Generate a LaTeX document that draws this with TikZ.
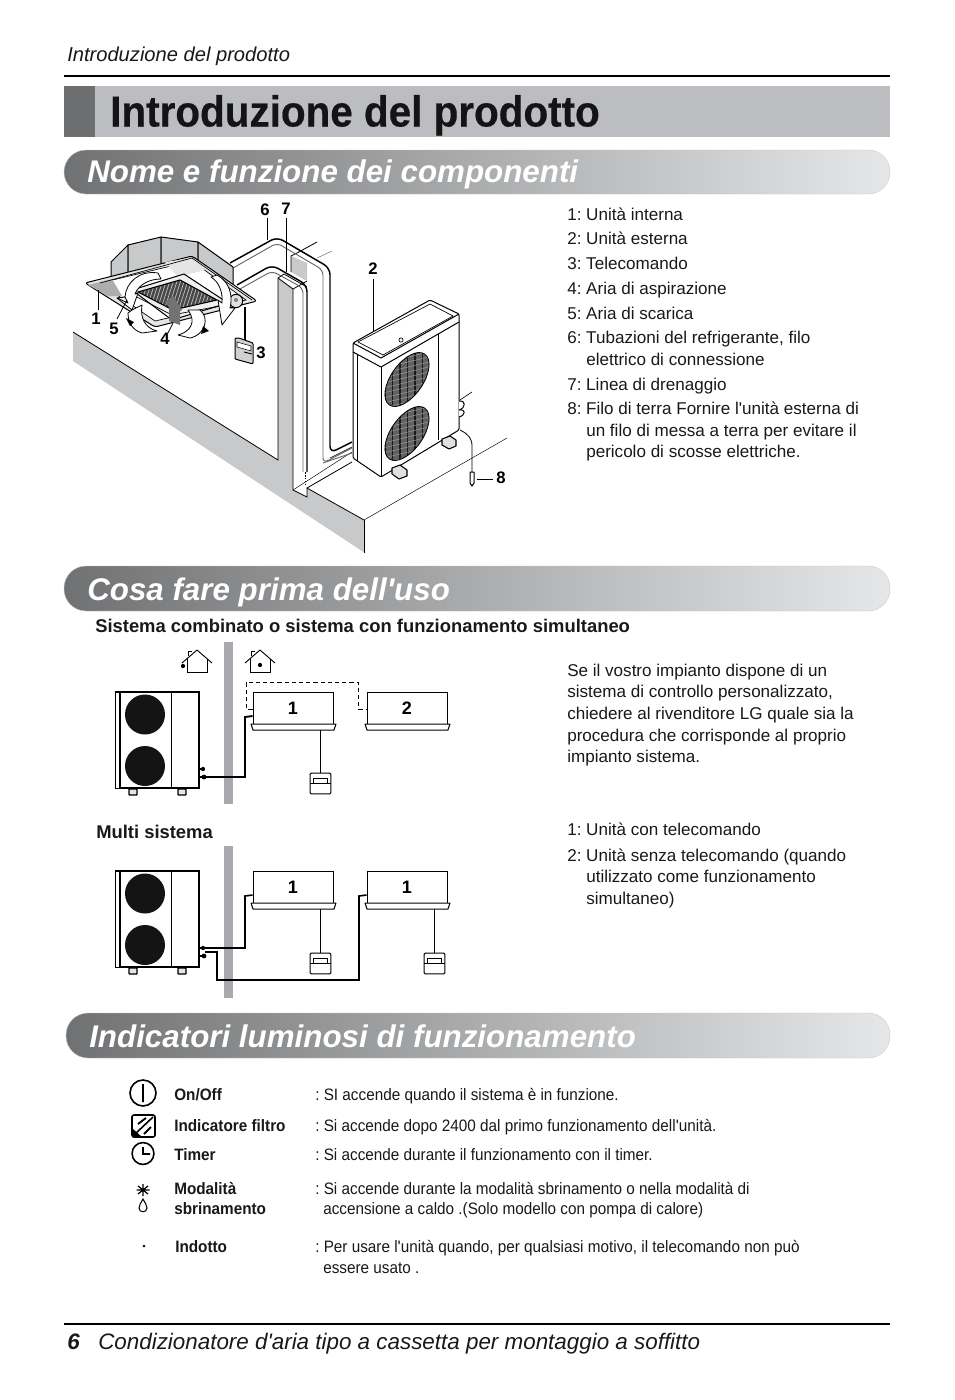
\documentclass[tikz,border=0pt]{standalone}
\usepackage{fontspec}
\setmainfont{Liberation Sans}
\newfontfamily\lsans{Liberation Sans}
\newfontfamily\condf[FakeStretch=0.925]{Liberation Sans}
\newfontfamily\titlef[FakeStretch=0.93,BoldFeatures={FakeBold=0.4}]{Liberation Sans}
\newcommand{\ap}{{\lsans'}}
\usetikzlibrary{calc}
\definecolor{barmid}{HTML}{BCBDC0}
\definecolor{bardark}{HTML}{6D6E70}
\definecolor{secl}{HTML}{707173}
\definecolor{secr}{HTML}{E6E7E8}
\definecolor{wallg}{HTML}{C8C9CB}
\definecolor{sepg}{HTML}{A7A9AC}
\newcounter{tn}
\newcommand{\txtat}[4]{\stepcounter{tn}\node[#1] (t\thetn) at (#2,#3) {\frenchspacing #4};}
\tikzset{
 lab/.style={anchor=base west,inner sep=0pt,font=\fontsize{12.8}{15}\selectfont,text=black!90},
 num/.style={anchor=center,inner sep=0pt,font=\fontsize{12.5}{15}\bfseries\selectfont},
 secbar/.style={rounded corners=16.5pt,left color=secl,right color=secr,draw=black!22,line width=.3pt},
 sectxt/.style={anchor=base west,inner sep=0pt,text=white,font=\fontsize{23.5}{28}\bfseries\itshape\selectfont},
 headtxt/.style={anchor=base west,inner sep=0pt,font=\fontsize{15.1}{18}\itshape\selectfont,text=black!90},
 foottxt/.style={anchor=base west,inner sep=0pt,font=\fontsize{16.8}{20}\itshape\selectfont,text=black!90},
 subh/.style={anchor=base west,inner sep=0pt,font=\fontsize{13.8}{16}\bfseries\selectfont,text=black!90},
 indb/.style={anchor=base west,inner sep=0pt,font=\condf\fontsize{12.4}{15}\bfseries\selectfont,text=black!90},
 indt/.style={anchor=base west,inner sep=0pt,font=\condf\fontsize{12.4}{15}\selectfont,text=black!90},
 ln/.style={draw=black,line width=.75pt,line join=round},
 thinl/.style={draw=black,line width=.4pt},
 lead/.style={draw=black,line width=.6pt},
 pipeb/.style={draw=black,line width=1.1pt,rounded corners=5pt},
 pipeg/.style={draw=black!60,line width=.7pt,rounded corners=4pt},
 indoor/.style={draw=black,line width=.75pt,fill=white,minimum width=60pt,minimum height=24pt,inner sep=0pt,font=\fontsize{13.5}{15}\bfseries\selectfont},
 ctrl/.style={draw=black,line width=.75pt,fill=white,rounded corners=.8pt,minimum width=15.5pt,minimum height=15.5pt,inner sep=0pt},
 wire/.style={draw=black,line width=1.4pt},
 wirethin/.style={draw=black,line width=.7pt},
 swoosh/.style={draw=black,line width=.6pt,fill=white,line join=round},
 footp/.style={draw=black,line width=.8pt,fill=black!12,line join=round},
}
\newcommand{\flange}[2]{\draw[ln,fill=white] (#1-2,#2) -- (#1+83,#2) -- (#1+81,#2+6) -- (#1,#2+6) -- cycle;}
\newcommand{\outdoor}[2]{%
 \draw[line width=.75pt] (#1,#2) rectangle (#1+84,#2+96);
 \draw[line width=1.4pt] (#1,#2) -- (#1+84,#2) -- (#1+84,#2+96) -- (#1+5,#2+96) -- (#1+5,#2);
 \draw[line width=.5pt] (#1+56,#2) -- (#1+56,#2+96);
 \fill[black!92] (#1+30,#2+22.5) circle (15pt) (#1+30,#2+74) circle (15pt);
 \draw[line width=1pt,fill=black!10,rounded corners=.5pt] (#1+14,#2+97) rectangle (#1+22,#2+103);
 \draw[line width=1pt,fill=black!10,rounded corners=.5pt] (#1+63,#2+97) rectangle (#1+71,#2+103);
 \draw[line width=1pt] (#1+85,#2+77) -- (#1+88,#2+77) (#1+85,#2+85) -- (#1+88,#2+85);
 \fill (#1+88,#2+77) circle (1.6pt) (#1+89,#2+85) circle (1.8pt);
}
\newcommand{\house}[4]{%
 \draw[line width=.7pt,line join=round] (#1-15,#2+13) -- (#1,#2) -- (#1+15,#2+13);
 \draw[line width=.6pt] (#1-10,#2+9) -- (#1-10,#2+22) -- (#1+10,#2+22) -- (#1+10,#2+9);
 \draw[line width=.6pt] (#1-9,#2+6) -- (#1-9,#2+1) -- (#1-5,#2+1);
 \fill (#3,#4) circle (1.6pt);
}
\begin{document}
\begin{tikzpicture}[x=0.75pt,y=-0.75pt]
\useasboundingbox (0,0) rectangle (954,1400);
\fill[white] (0,0) rectangle (954,1400);
% page header
\txtat{headtxt}{67}{61}{Introduzione del prodotto}
\draw[line width=1.4pt] (64,76) -- (890,76);
\fill[barmid] (64,86) rectangle (890,137);
\fill[bardark] (64,86) rectangle (95,137);
\txtat{anchor=base west,inner sep=0pt,text=black!92,font=\titlef\fontsize{32.6}{38}\bfseries\selectfont}{110}{126.5}{Introduzione del prodotto}
% section bars
\path[secbar] (64,150) rectangle (890,194);
\txtat{sectxt}{87}{182}{Nome e funzione dei componenti}
\path[secbar] (64,566) rectangle (890,611);
\txtat{sectxt}{87}{600}{Cosa fare prima dell\ap uso}
\path[secbar] (66,1013) rectangle (890,1058);
\txtat{sectxt}{89}{1047}{Indicatori luminosi di funzionamento}
% ---- wall
\fill[wallg] (278,278) -- (293,289) -- (293,490) -- (307,497) -- (307,488) -- (365,521) -- (365,553) -- (73,361) -- (73,332) -- (278,460) -- cycle;
\draw[thinl,line width=.6pt] (73,332) -- (278,460) -- (278,278) -- (284,274) -- (307,287);
\draw[thinl,line width=.6pt] (278,278) -- (293,289) -- (307,281);
\draw[thinl,line width=.6pt] (293,289) -- (293,490) -- (307,497) -- (307,488) -- (364,520);
\draw[line width=.75pt] (364,520) -- (364,553);
\draw[line width=.35pt] (364,520) -- (507,438);
\draw[line width=.6pt] (307,488) -- (352,462);
\draw[line width=.35pt] (293,490) -- (352,452);
\fill[wallg] (291,256) -- (291,272) -- (307,281) -- (307,263) -- cycle;
\draw[line width=.6pt] (291,272) -- (291,256) -- (297,253) -- (317,242);
\draw[line width=.35pt,black!60] (317,258) -- (332,251);
% pipes
\draw[pipeb] (230,263) -- (277,237) -- (330,268) -- (330,453) -- (352,442);
\draw[pipeg] (233,268) -- (277,243) -- (323,270) -- (323,463) -- (352,448);
\draw[pipeb] (237,285) -- (272,265) -- (307,285) -- (307,472);
\draw[pipeg] (240,289) -- (272,271) -- (303,288) -- (303,472);
\draw[line width=1.2pt,densely dotted,black] (305.5,472) -- (305.5,484);
\draw[black!60,line width=.7pt] (323,463) -- (352,453);
\draw[line width=.4pt] (330,458) -- (352,447);
% leader lines
\coordinate (c6a) at (267,218); \coordinate (c6b) at (267,240);
\coordinate (c7a) at (286,218); \coordinate (c7b) at (286,272);
\draw[lead] (c6a) -- (c6b); \draw[lead] (c7a) -- (c7b);
\draw[lead] (373,279) -- (373,332);
% ---- cassette
\draw[ln,fill=wallg] (111,285) -- (111,262) -- (128,245) -- (128,275) -- cycle;
\draw[ln,fill=wallg] (128,275) -- (128,245) -- (161,237) -- (161,268) -- cycle;
\draw[ln,fill=wallg] (161,268) -- (161,237) -- (198,242) -- (198,265) -- cycle;
\draw[ln,fill=wallg] (198,265) -- (198,242) -- (233,267) -- (233,287) -- cycle;
\draw[ln,fill=black!10,rounded corners=2pt] (85,283) -- (192,256) -- (257,301) -- (155,327) -- cycle;
\draw[line width=.5pt,fill=white] (100,283) -- (192,261) -- (246,300) -- (155,321) -- cycle;
\fill[black!32] (88,285) -- (112,279) -- (122,296) -- (108,296) -- cycle;
\fill[black!10] (165,262) -- (192,258) -- (205,270) -- (178,277) -- cycle;
\draw[line width=.5pt] (100,283) -- (192,258) -- (252,300);
\draw[ln,fill=black!6] (132,290) -- (184,274) -- (228,303) -- (172,320) -- cycle;
\draw[line width=.5pt] (135,296) -- (172,315) -- (225,305);
\begin{scope}
\clip (138,292) -- (180,280) -- (217,300) -- (173,310) -- cycle;
\fill[black!72] (120,270) rectangle (230,320);
\foreach \k in {0,1,...,30} {\draw[white!75!black,line width=.55pt] (125+\k*3.6,320) -- (125+\k*3.6+16,270);}
\end{scope}
\draw[line width=.8pt] (138,292) -- (180,280) -- (217,300) -- (173,310) -- cycle;
\draw[ln,fill=black!12] (236,301) circle (5pt);
\fill[black!50] (236,300) circle (1.5pt);
% arrows
\path[swoosh] (158,273) .. controls (140,270) and (126,282) .. (125,297) -- (117,298) -- (132,310) -- (138,293) -- (135,294) .. controls (139,284) and (150,279) .. (161,279) -- cycle;
\path[swoosh,fill=black!6] (117,298) -- (125,297) -- (128,303) -- cycle;
\path[swoosh] (132,310) -- (142,305) .. controls (140,318) and (145,328) .. (157,331) -- (142,333) .. controls (132,330) and (128,322) .. (128,313) -- cycle;
\fill (126,318) -- (134,322) -- (130,326) -- cycle;
\path[swoosh] (217,275) .. controls (230,282) and (233,296) .. (230,308) -- (235,308) -- (222,325) -- (218,300) -- (222,303) .. controls (223,292) and (219,282) .. (211,277) -- cycle;
\path[swoosh] (188,310) -- (200,310) .. controls (210,318) and (205,335) .. (190,338) -- (178,335) .. controls (190,332) and (197,322) .. (188,310) -- cycle;
\fill (203,326) -- (209,331) -- (201,334) -- cycle;
% up arrow 4
\fill[black!55] (173,296) -- (165,302) -- (169,306) -- (169,321) -- (180,325) -- (180,311) -- (182,310) -- cycle;
% leader lines of cassette
\draw[lead] (98,290) -- (98,310);
\draw[lead] (127,300) -- (117,319);
\draw[lead] (173,323) -- (168,333);
\draw[line width=1pt] (245,307) -- (245,340);
% remote
\draw[ln,fill=black!18,rounded corners=.8pt] (235,338) -- (239,338) -- (253,343) -- (253,364) -- (235,359) -- cycle;
\draw[line width=.4pt,fill=white] (237,342) -- (251,346) -- (251,351) -- (237,347) -- cycle;
\draw[line width=.7pt] (244,352) -- (252,354);
% ---- outdoor unit
\draw[ln,fill=white,rounded corners=1pt] (353,343) -- (430,300) -- (459,314) -- (459,430) -- (381,477) -- (353,458) -- cycle;
\draw[ln] (353,343) -- (381,358) -- (459,314);
\draw[ln] (353,352) -- (381,367) -- (459,322);
\draw[line width=.5pt] (358,342) -- (430,304) -- (453,316) -- (383,355) -- cycle;
\draw[line width=.6pt] (357,354) -- (357,461);
\draw[ln] (381,367) -- (381,477);
\draw[line width=.6pt] (438,334) -- (438,440);
\draw[line width=.5pt] (401,340) circle (1.6pt);
\begin{scope}
\clip (407,379.5) ellipse [x radius=23.25pt,y radius=12pt,rotate=55]
      (407,433.5) ellipse [x radius=23.25pt,y radius=12pt,rotate=55];
\fill[black!62] (375,345) rectangle (435,470);
\foreach \k in {0,1,...,6} {\draw[black!90,line width=.8pt] (385+\k*7.5,345) -- (385+\k*7.5,470);}
\foreach \k in {0,1,...,30} {\draw[white!65!black,line width=.3pt] (375,345+\k*5) -- (437,330+\k*5);}
\end{scope}
\draw[line width=.6pt] (407,379.5) ellipse [x radius=23.25pt,y radius=12pt,rotate=55];
\draw[line width=.6pt] (407,433.5) ellipse [x radius=23.25pt,y radius=12pt,rotate=55];
\draw[footp] (392,468) -- (400,465) -- (407,470) -- (407,476) -- (399,479) -- (392,474) -- cycle;
\draw[footp] (442,439) -- (450,436) -- (456,440) -- (456,446) -- (449,449) -- (442,445) -- cycle;
\draw[ln,fill=white] (459,401) .. controls (466,400) and (466,408) .. (459,410);
\draw[ln,fill=white] (459,410) .. controls (466,409) and (466,415) .. (459,417);
\draw[line width=.5pt] (460,400) -- (472,392);
\draw[line width=.6pt] (460,430) .. controls (468,434) and (472,438) .. (472,446) -- (472,472);
\draw[ln,fill=white] (470,472) -- (474,472) -- (474,483) -- (472,486) -- (470,483) -- cycle;
\draw[lead] (477,479) -- (493,479);
% numbers
\txtat{num}{265}{210}{6}
\txtat{num}{286}{209}{7}
\txtat{num}{373}{269}{2}
\txtat{num}{96}{319}{1}
\txtat{num}{114}{329}{5}
\txtat{num}{165}{339}{4}
\txtat{num}{261}{353}{3}
\txtat{num}{501}{478}{8}
% right column texts
\txtat{lab}{567}{220}{1: Unità interna}
\txtat{lab}{567}{244}{2: Unità esterna}
\txtat{lab}{567}{269}{3: Telecomando}
\txtat{lab}{567}{294}{4: Aria di aspirazione}
\txtat{lab}{567}{319}{5: Aria di scarica}
\txtat{lab}{567}{343}{6: Tubazioni del refrigerante, filo}
\txtat{lab}{586}{365}{elettrico di connessione}
\txtat{lab}{567}{390}{7: Linea di drenaggio}
\txtat{lab}{567}{414}{8: Filo di terra Fornire l\ap unità esterna di}
\txtat{lab}{586}{436}{un filo di messa a terra per evitare il}
\txtat{lab}{586}{457}{pericolo di scosse elettriche.}
% ---- second section
\txtat{subh}{95}{632.5}{Sistema combinato o sistema con funzionamento simultaneo}
\fill[sepg] (224,642) rectangle (233,804);
\house{197}{650}{183}{666}
\house{260}{650}{260}{665}
\outdoor{115}{692}
\node[indoor] (a1) at (293,708) {1};
\node[indoor] (a2) at (407,708) {2};
\flange{253}{724}
\flange{367}{724}
\node[ctrl] (ar) at (320.5,783.5) {};
\draw[line width=.5pt] (313.5,778) rectangle (327.5,783) (310,783) -- (331,783);
\draw[wirethin] (320.5,730) -- (ar.north);
\coordinate (oa) at (206,777);
\draw[wire] (oa) -- (245,777) -- (245,717) -- ([yshift=-6pt]a1.west);
\draw[line width=.75pt,dash pattern=on 3.2pt off 2.2pt] ([yshift=-.75pt]a1.west) -- (246,709) -- (246,682) -- (358,682) -- (358,709) -- ([yshift=-.75pt]a2.west);
\txtat{subh}{96}{838.5}{Multi sistema}
\fill[sepg] (224,846) rectangle (233,998);
\outdoor{115}{871}
\node[indoor] (b1) at (293,887) {1};
\node[indoor] (b2) at (407,887) {1};
\flange{253}{903}
\flange{367}{903}
\node[ctrl] (br1) at (320.5,963.5) {};
\node[ctrl] (br2) at (434.5,963.5) {};
\draw[line width=.5pt] (313.5,958) rectangle (327.5,963) (310,963) -- (331,963);
\draw[line width=.5pt] (427.5,958) rectangle (441.5,963) (424,963) -- (445,963);
\draw[wirethin] (320.5,909) -- (br1.north);
\draw[line width=1.2pt] (434.5,909) -- (br2.north);
\coordinate (ob1) at (205,948);
\coordinate (ob2) at (205,952);
\draw[wire,line width=1.2pt] (ob1) -- (245,948) -- (245,896) -- ([yshift=-6pt]b1.west);
\draw[wire,line width=1.2pt] (ob2) -- (217,952) -- (217,980) -- (359,980) -- (359,896) -- ([yshift=-6pt]b2.west);
% right texts of section 2
\txtat{lab}{567}{676}{Se il vostro impianto dispone di un}
\txtat{lab}{567}{697}{sistema di controllo personalizzato,}
\txtat{lab}{567}{719}{chiedere al rivenditore LG quale sia la}
\txtat{lab}{567}{741}{procedura che corrisponde al proprio}
\txtat{lab}{567}{762}{impianto sistema.}
\txtat{lab}{567}{835}{1: Unità con telecomando}
\txtat{lab}{567}{861}{2: Unità senza telecomando (quando}
\txtat{lab}{586}{882}{utilizzato come funzionamento}
\txtat{lab}{586}{904}{simultaneo)}
% ---- indicators
\draw[line width=1.2pt] (143,1093) circle (9.75pt) (143,1084) -- (143,1102);
\draw[line width=1.2pt,rounded corners=1.5pt] (132,1115) rectangle (155,1137);
\draw[line width=1.2pt] (134,1135) -- (153,1117);
\draw[line width=1.4pt] (146,1118) -- (138,1124) (151,1127) -- (144,1134);
\fill (133,1137) -- (133,1129) -- (142,1137) -- cycle;
\draw[line width=1.2pt] (143,1153.5) circle (8.2pt) (143,1147) -- (143,1154) -- (150,1154);
\draw[line width=.9pt] (143,1184) -- (143,1196) (136.5,1190) -- (149.5,1190) (138,1186) -- (148,1194) (148,1186) -- (138,1194);
\draw[line width=.8pt] (143,1199) .. controls (145,1203) and (147,1205) .. (147,1208) .. controls (147,1213) and (139,1213) .. (139,1208) .. controls (139,1205) and (141,1203) .. (143,1199) -- cycle;
\fill (144,1246) circle (1.1pt);
\txtat{indb}{174}{1100}{On/Off}
\txtat{indb}{174}{1131}{Indicatore filtro}
\txtat{indb}{174}{1160}{Timer}
\txtat{indb}{174}{1194}{Modalità}
\txtat{indb}{174}{1214}{sbrinamento}
\txtat{indb}{175}{1252}{Indotto}
\txtat{indt}{315}{1100}{: SI accende quando il sistema è in funzione.}
\txtat{indt}{315}{1131}{: Si accende dopo 2400 dal primo funzionamento dell\ap unità.}
\txtat{indt}{315}{1160}{: Si accende durante il funzionamento con il timer.}
\txtat{indt}{315}{1194}{: Si accende durante la modalità sbrinamento o nella modalità di}
\txtat{indt}{323}{1214}{accensione a caldo .(Solo modello con pompa di calore)}
\txtat{indt}{315}{1252}{: Per usare l\ap unità quando, per qualsiasi motivo, il telecomando non può}
\txtat{indt}{323}{1273}{essere usato .}
% footer
\draw[line width=1.4pt] (64,1324) -- (890,1324);
\txtat{foottxt,font=\fontsize{16.8}{20}\bfseries\itshape\selectfont}{67}{1349.5}{6}
\txtat{foottxt}{98}{1349.5}{Condizionatore d\ap aria tipo a cassetta per montaggio a soffitto}
\end{tikzpicture}
\end{document}
